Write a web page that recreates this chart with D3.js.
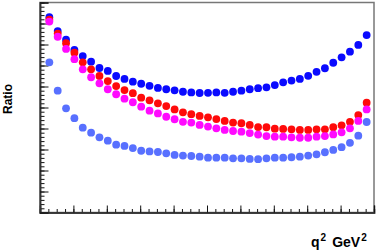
<!DOCTYPE html>
<html>
<head>
<meta charset="utf-8">
<script src="https://cdn.jsdelivr.net/npm/d3@7"></script>
<style>
  body { margin: 0; background: white; }
  text { font-family: "Liberation Sans", Arial, sans-serif; font-weight: bold; }
</style>
</head>
<body>
<script>
// q^2 points (same for every series)
const q2 = [0.28, 0.53, 0.78, 1.03, 1.28, 1.53, 1.78, 2.03, 2.28, 2.53,
            2.78, 3.03, 3.28, 3.53, 3.78, 4.03, 4.28, 4.53, 4.78, 5.03,
            5.28, 5.53, 5.78, 6.03, 6.28, 6.53, 6.78, 7.03, 7.28, 7.53,
            7.78, 8.03, 8.28, 8.53, 8.78, 9.03, 9.28, 9.53, 9.78];

const blueVals = [9.30, 8.64, 8.23, 7.74, 7.45, 7.18, 6.88, 6.74, 6.50, 6.36,
                  6.23, 6.13, 6.03, 5.93, 5.87, 5.82, 5.75, 5.72, 5.69, 5.70,
                  5.72, 5.70, 5.75, 5.80, 5.87, 5.92, 5.96, 6.07, 6.20, 6.28,
                  6.36, 6.51, 6.70, 6.87, 7.13, 7.39, 7.66, 7.98, 8.45];

const redVals = [9.18, 8.52, 8.06, 7.61, 7.15, 6.82, 6.50, 6.26, 6.02, 5.83,
                 5.68, 5.47, 5.34, 5.20, 5.07, 4.91, 4.77, 4.68, 4.60, 4.53,
                 4.45, 4.36, 4.28, 4.25, 4.17, 4.07, 4.06, 3.99, 3.98, 3.96,
                 3.93, 3.93, 3.96, 3.96, 4.06, 4.15, 4.32, 4.64, 5.23];

const magentaVals = [9.09, 8.37, 7.79, 7.30, 6.82, 6.44, 6.15, 5.87, 5.63, 5.42,
                     5.25, 5.04, 4.85, 4.72, 4.56, 4.44, 4.32, 4.28, 4.17, 4.09,
                     4.01, 3.93, 3.88, 3.85, 3.78, 3.71, 3.64, 3.61, 3.61, 3.58,
                     3.56, 3.56, 3.61, 3.64, 3.72, 3.82, 4.01, 4.36, 4.91];

const lightBlueVals = [7.15, 5.80, 4.96, 4.49, 4.04, 3.80, 3.58, 3.42, 3.23, 3.17,
                       3.07, 2.94, 2.91, 2.88, 2.82, 2.74, 2.71, 2.69, 2.66, 2.61,
                       2.61, 2.61, 2.58, 2.58, 2.55, 2.54, 2.58, 2.61, 2.61, 2.63,
                       2.66, 2.71, 2.77, 2.87, 2.98, 3.11, 3.32, 3.66, 4.31];

const seriesList = [
    { name: "blue", color: "#0a0aff", values: blueVals },
    { name: "red", color: "#ff0a0a", values: redVals },
    { name: "magenta", color: "#ff0aff", values: magentaVals },
    { name: "lightblue", color: "#5870ff", values: lightBlueVals }
];

const wSvg = 382;
const hSvg = 252;
const xLeft = 40, xRight = 374, yTop = 2.5, yBottom = 212.5;

const xScale = d3.scaleLinear([0, 10], [xLeft, xRight]);
const yScale = d3.scaleLinear([0, 10], [yBottom, yTop]);

const svg = d3.select("body")
    .append("svg")
    .attr("width", wSvg)
    .attr("height", hSvg);

// frame
svg.append("rect")
    .attr("x", xLeft)
    .attr("y", yTop)
    .attr("width", xRight - xLeft)
    .attr("height", yBottom - yTop)
    .attr("fill", "none")
    .attr("stroke", "#777")
    .attr("stroke-width", 1.5);

// ticks, drawn inward, no labels
function tickAxis(axis, values, size) {
    return axis.tickValues(values).tickSize(-size).tickFormat("");
}

svg.append("g")
    .attr("transform", `translate(0, ${yBottom})`)
    .call(tickAxis(d3.axisBottom(xScale), d3.range(0, 10.01, 0.25), 3.5));
svg.append("g")
    .attr("transform", `translate(0, ${yBottom})`)
    .call(tickAxis(d3.axisBottom(xScale), d3.range(0, 10.01, 1), 7));

svg.append("g")
    .attr("transform", `translate(${xLeft}, 0)`)
    .call(tickAxis(d3.axisLeft(yScale), d3.range(0, 10.01, 0.2), 4.5));
svg.append("g")
    .attr("transform", `translate(${xLeft}, 0)`)
    .call(tickAxis(d3.axisLeft(yScale), d3.range(0, 10.01, 1), 8.5));

svg.selectAll(".domain")
    .attr("stroke", "#333")
    .attr("stroke-width", 1.5);
svg.selectAll(".tick line")
    .attr("stroke", "#111");

// markers
seriesList.forEach(s => {
    svg.append("g")
        .selectAll("circle")
        .data(s.values)
        .enter()
        .append("circle")
        .attr("cx", (d, i) => xScale(q2[i]))
        .attr("cy", d => yScale(d))
        .attr("r", 3.9)
        .attr("fill", s.color);
});

// axis titles
svg.append("text")
    .attr("transform", "translate(12, 99) rotate(-90)")
    .attr("text-anchor", "middle")
    .attr("font-size", 12)
    .text("Ratio");

const xTitle = svg.append("text")
    .attr("x", 311)
    .attr("y", 247)
    .attr("font-size", 14);
xTitle.append("tspan").text("q");
xTitle.append("tspan").attr("font-size", 10).attr("dy", -6).attr("dx", 1).text("2");
xTitle.append("tspan").attr("dy", 6).attr("dx", 6).text("GeV");
xTitle.append("tspan").attr("font-size", 10).attr("dy", -6).attr("dx", 1).text("2");
</script>
</body>
</html>
